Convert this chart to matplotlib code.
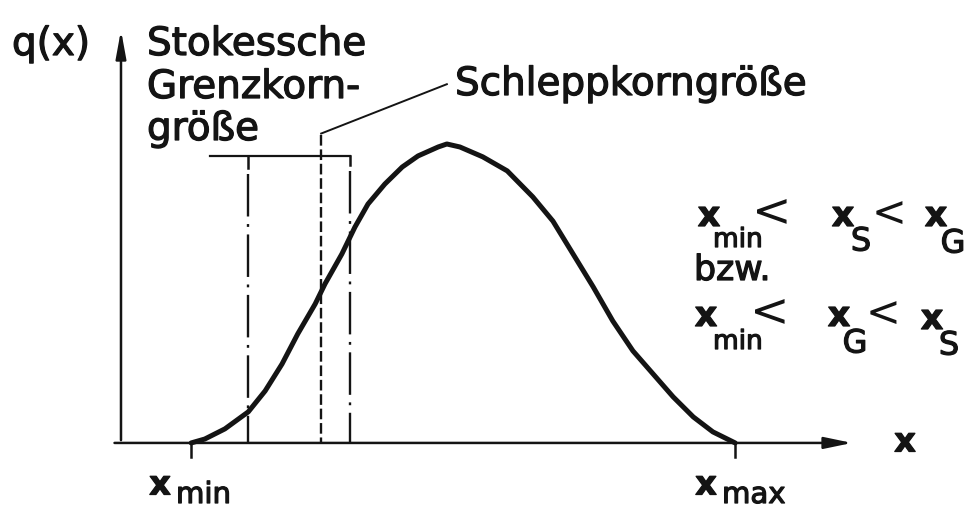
import numpy as np
import matplotlib.pyplot as plt
import matplotlib.patheffects as pe

# particle size axis (arbitrary units) and density distribution q(x)
x_min = 1.29
x_max = 11.29
x_grenz_lo = 2.34     # Stokes limit band, lower edge
x_grenz_hi = 4.21     # Stokes limit band, upper edge
x_schlepp = 3.68      # drag grain size

x_pts = [1.29, 1.54, 1.91, 2.34, 2.65, 2.96, 3.25, 3.57, 3.75, 4.06, 4.30,
         4.54, 4.85, 5.17, 5.46, 5.83, 5.99, 6.23, 6.65, 7.10, 7.57, 7.94,
         8.31, 8.68, 9.04, 9.41, 9.78, 10.15, 10.52, 10.88, 11.29]
q_pts = [0.0, 0.013, 0.047, 0.104, 0.174, 0.264, 0.365, 0.465, 0.532, 0.632,
         0.722, 0.799, 0.866, 0.923, 0.960, 0.990, 1.0, 0.990, 0.957, 0.910,
         0.823, 0.742, 0.632, 0.522, 0.408, 0.308, 0.231, 0.154, 0.087,
         0.037, 0.0]

bracket_q = 0.96
schlepp_top = 1.03
leader_end = (5.99, 1.20)

W, H = 966, 510
fig = plt.figure(figsize=(W / 100, H / 100), dpi=100)
ax = fig.add_axes([0, 0, 1, 1])
ax.set_xlim(-2.224, 15.533)
ax.set_ylim(-0.221, 1.485)
ax.axis('off')

ink = '#141414'
plt.rcParams['font.family'] = ['DejaVu Sans']

# axes with arrows
ax.annotate('', xy=(13.49, 0), xytext=(-0.17, 0),
            arrowprops=dict(arrowstyle='-|>,head_length=1.2,head_width=0.25',
                            lw=1.8, color=ink, mutation_scale=14))
ax.annotate('', xy=(0, 1.39), xytext=(0, 0),
            arrowprops=dict(arrowstyle='-|>,head_length=1.2,head_width=0.22',
                            lw=1.8, color=ink, mutation_scale=14))

# ticks at x_min and x_max
for xv in (x_min, x_max):
    ax.plot([xv, xv], [0, -0.047], color=ink, lw=1.8)

# distribution curve
ax.plot(x_pts, q_pts, color=ink, lw=3.6, solid_capstyle='round',
        solid_joinstyle='round')

# bracket on top of the band
ax.plot([1.64, x_grenz_hi], [bracket_q, bracket_q], color=ink, lw=1.6)
ax.plot([x_grenz_lo, x_grenz_lo], [bracket_q, 0.92], color=ink, lw=1.8)
ax.plot([x_grenz_hi, x_grenz_hi], [bracket_q, 0.93], color=ink, lw=1.8)

# dash-dot limits
for xv, top in ((x_grenz_lo, 0.90), (x_grenz_hi, 0.91)):
    ax.plot([xv, xv], [top, 0], color=ink, lw=1.7,
            dashes=(18, 3.2, 1.2, 3.2))

# dashed drag grain size with leader line
ax.plot([x_schlepp, x_schlepp], [schlepp_top, 0], color=ink, lw=1.7,
        dashes=(4.5, 1.6))
ax.plot([x_schlepp, leader_end[0]], [schlepp_top + 0.005, leader_end[1]],
        color=ink, lw=1.4)

thick = [pe.withStroke(linewidth=0.9, foreground=ink)]


def label(px, py, s, size=28, ha='left', va='center', weight='normal',
          effects=thick):
    fig.text(px / W, 1 - py / H, s, fontsize=size, ha=ha, va=va,
             color=ink, weight=weight, path_effects=effects)


label(12, 45, 'q(x)')
label(147, 45, 'Stokessche')
label(147, 88, 'Grenzkorn-')
label(147, 130, 'größe')
label(455, 85, 'Schleppkorngröße')

# axis annotations
label(905, 443, 'x', size=24, ha='center', weight='bold')
label(160, 486, 'x', size=24, ha='center', weight='bold')
label(176, 496, 'min', size=21)
label(706, 486, 'x', size=24, ha='center', weight='bold')
label(722, 496, 'max', size=21)

# size relations
label(709, 217, 'x', size=25, ha='center', weight='bold')
label(713, 241, 'min', size=19)
label(752, 214, '<', size=34, effects=None)
label(843, 217, 'x', size=25, ha='center', weight='bold')
label(861, 243, 'S', size=23, ha='center')
label(872, 214, '<', size=30, effects=None)
label(936, 217, 'x', size=25, ha='center', weight='bold')
label(953, 245, 'G', size=23, ha='center')

label(694, 271, 'bzw.', size=25)

label(706, 317, 'x', size=25, ha='center', weight='bold')
label(713, 343, 'min', size=19)
label(750, 314, '<', size=34, effects=None)
label(839, 317, 'x', size=25, ha='center', weight='bold')
label(855, 345, 'G', size=23, ha='center')
label(866, 314, '<', size=30, effects=None)
label(932, 320, 'x', size=25, ha='center', weight='bold')
label(949, 347, 'S', size=23, ha='center')

fig.savefig('out.png', dpi=100, facecolor='white')
